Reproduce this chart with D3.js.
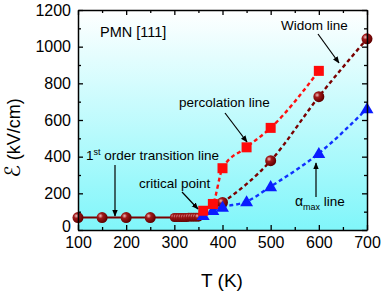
<!DOCTYPE html>
<html>
<head>
<meta charset="utf-8">
<script src="https://cdn.jsdelivr.net/npm/d3@7"></script>
<style>
  body { margin: 0; background: #fff; }
  text { font-family: "Liberation Sans", Arial, sans-serif; }
</style>
</head>
<body>
<div id="chart"></div>
<script>
// data
var xTicks = [100, 200, 300, 400, 500, 600, 700];
var yTicks = [0, 200, 400, 600, 800, 1000, 1200];

var firstOrderT = [100, 150, 200, 250, 300, 305, 310, 315, 320, 325, 330, 335, 340, 345, 350];
var firstOrderE = [68, 68, 68, 68, 68, 68, 68, 68, 68, 68, 70, 70, 70, 70, 70];
var widomT = [400, 500, 600, 700];
var widomE = [150, 378, 727, 1043];
var percT = [360, 380, 400, 450, 500, 600];
var percE = [105, 142, 337, 451, 557, 868];
var alphaT = [360, 380, 400, 450, 500, 600, 700];
var alphaE = [80, 108, 125, 155, 237, 418, 662];

var W = 382, H = 294;
var x = d3.scaleLinear().domain([100, 700]).range([78, 367]);
var y = d3.scaleLinear().domain([0, 1200]).range([230, 10]);

var svg = d3.select("#chart").append("svg")
    .attr("width", W).attr("height", H);

var defs = svg.append("defs");
var bg = defs.append("linearGradient").attr("id", "bg")
    .attr("x1", 0).attr("y1", 0).attr("x2", 0).attr("y2", 1);
bg.append("stop").attr("offset", "0%").attr("stop-color", "#ffffff");
bg.append("stop").attr("offset", "100%").attr("stop-color", "#80f6fa");

var ball = defs.append("radialGradient").attr("id", "ball")
    .attr("cx", "35%").attr("cy", "35%").attr("r", "65%");
ball.append("stop").attr("offset", "0%").attr("stop-color", "#f0c0c0");
ball.append("stop").attr("offset", "35%").attr("stop-color", "#a01818");
ball.append("stop").attr("offset", "100%").attr("stop-color", "#600000");

var mk = defs.append("marker").attr("id", "arr")
    .attr("viewBox", "0 0 10 10").attr("refX", 9).attr("refY", 5)
    .attr("markerWidth", 7).attr("markerHeight", 7).attr("orient", "auto")
    .attr("markerUnits", "userSpaceOnUse");
mk.append("path").attr("d", "M0,1 L10,5 L0,9 Z").attr("fill", "#000");

svg.append("rect").attr("x", x(100)).attr("y", y(1200))
    .attr("width", x(700) - x(100)).attr("height", y(0) - y(1200))
    .attr("fill", "url(#bg)");

function pts(ts, es) { return ts.map(function(t, i) { return [t, es[i]]; }); }
var line = d3.line().x(function(d) { return x(d[0]); }).y(function(d) { return y(d[1]); })
    .curve(d3.curveMonotoneX);

var fo = pts(firstOrderT, firstOrderE);
var wid = [[350, 70]].concat(pts(widomT, widomE));
var perc = pts(percT, percE);
var alpha = pts(alphaT, alphaE);

svg.append("path").attr("d", line(fo)).attr("fill", "none")
    .attr("stroke", "#7a0000").attr("stroke-width", 2);
svg.append("path").attr("d", line(wid)).attr("fill", "none")
    .attr("stroke", "#7a0000").attr("stroke-width", 2.4).attr("stroke-dasharray", "4,3");
svg.append("path").attr("d", line(perc)).attr("fill", "none")
    .attr("stroke", "#ff1010").attr("stroke-width", 2.4).attr("stroke-dasharray", "4,3");
svg.append("path").attr("d", line(alpha)).attr("fill", "none")
    .attr("stroke", "#1030ff").attr("stroke-width", 2.4).attr("stroke-dasharray", "4,3");

// dark red balls
svg.selectAll("circle.fo").data(fo.concat(pts(widomT, widomE))).enter().append("circle")
    .attr("cx", function(d) { return x(d[0]); })
    .attr("cy", function(d) { return y(d[1]); })
    .attr("r", function(d) { return d[0] > 295 && d[0] < 355 ? 4.5 : 5.5; })
    .attr("fill", "url(#ball)");

// blue triangles
var tri = d3.symbol().type(d3.symbolTriangle).size(72);
svg.selectAll("path.tri").data(alpha).enter().append("path")
    .attr("d", tri)
    .attr("transform", function(d) { return "translate(" + x(d[0]) + "," + (y(d[1]) + 1) + ")"; })
    .attr("fill", "#0a1cff");

// red squares
svg.selectAll("rect.sq").data(perc).enter().append("rect")
    .attr("x", function(d) { return x(d[0]) - 5; })
    .attr("y", function(d) { return y(d[1]) - 5; })
    .attr("width", 10).attr("height", 10)
    .attr("fill", "#ff0a0a");

// axes
function styleAxis(g) {
  g.select(".domain").attr("stroke", "#000").attr("stroke-width", 1.5);
  g.selectAll(".tick line").attr("stroke", "#000").attr("stroke-width", 1.3);
  g.selectAll(".tick text").attr("font-size", 16).attr("fill", "#000")
    .attr("font-family", "Liberation Sans, Arial, sans-serif");
}
var xMinor = d3.range(150, 700, 100);
var yMinor = d3.range(100, 1200, 200);
var fmt = d3.format("d");

var gb = svg.append("g").attr("transform", "translate(0," + y(0) + ")")
    .call(d3.axisBottom(x).tickValues(xTicks).tickFormat(fmt).tickSize(-5).tickPadding(7).tickSizeOuter(0));
styleAxis(gb);
svg.append("g").attr("transform", "translate(0," + y(0) + ")")
    .call(d3.axisBottom(x).tickValues(xMinor).tickSize(-3).tickFormat("")).call(styleAxis)
    .select(".domain").remove();
var gt = svg.append("g").attr("transform", "translate(0," + y(1200) + ")")
    .call(d3.axisTop(x).tickValues(xTicks).tickSize(-5).tickFormat("").tickSizeOuter(0));
styleAxis(gt);
svg.append("g").attr("transform", "translate(0," + y(1200) + ")")
    .call(d3.axisTop(x).tickValues(xMinor).tickSize(-3).tickFormat("")).call(styleAxis)
    .select(".domain").remove();

var gl = svg.append("g").attr("transform", "translate(" + x(100) + ",0)")
    .call(d3.axisLeft(y).tickValues(yTicks).tickFormat(fmt).tickSize(-5).tickPadding(7).tickSizeOuter(0));
styleAxis(gl);
gl.selectAll(".tick text").filter(function(d) { return d === 0; }).attr("dy", "0.1em");
svg.append("g").attr("transform", "translate(" + x(100) + ",0)")
    .call(d3.axisLeft(y).tickValues(yMinor).tickSize(-3).tickFormat("")).call(styleAxis)
    .select(".domain").remove();
var gr = svg.append("g").attr("transform", "translate(" + x(700) + ",0)")
    .call(d3.axisRight(y).tickValues(yTicks).tickSize(-5).tickFormat("").tickSizeOuter(0));
styleAxis(gr);
svg.append("g").attr("transform", "translate(" + x(700) + ",0)")
    .call(d3.axisRight(y).tickValues(yMinor).tickSize(-3).tickFormat("")).call(styleAxis)
    .select(".domain").remove();

// axis titles
svg.append("text").attr("x", 222).attr("y", 287).attr("text-anchor", "middle")
    .attr("font-size", 19).text("T (K)");
var yl = svg.append("text").attr("transform", "translate(20,138) rotate(-90)")
    .attr("text-anchor", "middle").attr("font-size", 18);
yl.append("tspan").attr("font-family", "DejaVu Sans, sans-serif").attr("font-size", 21).text("ℰ");
yl.append("tspan").text(" (kV/cm)");

// annotations
function note(tx, ty, str) {
  return svg.append("text").attr("x", tx).attr("y", ty).attr("font-size", 13.5).attr("fill", "#000").text(str);
}
function arrow(x1, y1, x2, y2) {
  svg.append("line").attr("x1", x1).attr("y1", y1).attr("x2", x2).attr("y2", y2)
    .attr("stroke", "#000").attr("stroke-width", 1.2).attr("marker-end", "url(#arr)");
}
note(100, 37, "PMN [111]").attr("font-size", 14.5);
note(281, 30, "Widom line");
arrow(318, 34, 339, 63);
note(179, 107, "percolation line");
arrow(225, 113, 247, 142);
var fl = note(86, 160, "");
fl.append("tspan").text("1");
fl.append("tspan").attr("dy", -5).attr("font-size", 9).text("st");
fl.append("tspan").attr("dy", 5).text(" order transition line");
arrow(115, 165, 115, 216);
note(139, 188, "critical point");
arrow(182, 192, 198, 209);
var al = note(295, 206, "");
al.append("tspan").attr("font-size", 14).text("α");
al.append("tspan").attr("dy", 4).attr("font-size", 9).text("max");
al.append("tspan").attr("dy", -4).text(" line");
arrow(316, 197, 316, 163);
</script>
</body>
</html>
